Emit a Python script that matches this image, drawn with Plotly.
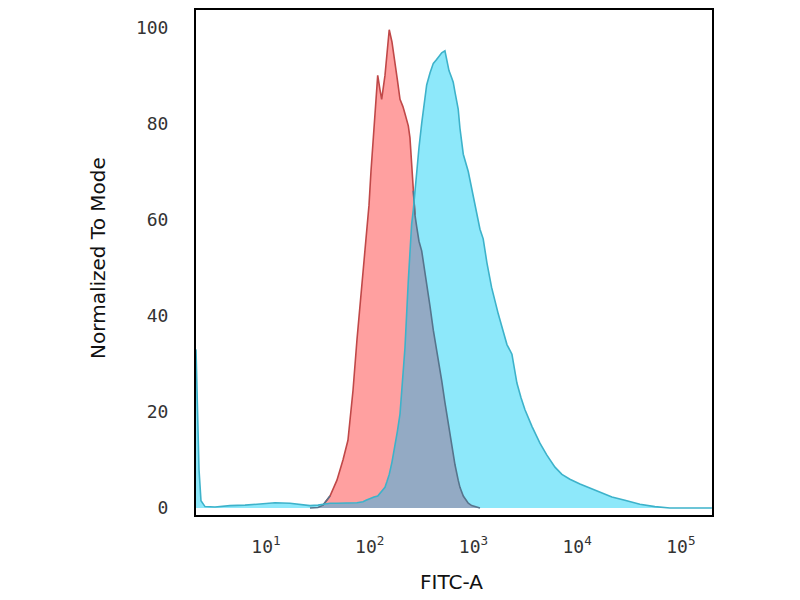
import numpy as np
import plotly.graph_objects as go

# log10 of FITC-A intensity, common grid for both histograms
log_fitc = [0.325, 0.340, 0.354, 0.373, 0.412, 0.508, 0.653, 0.798, 0.942, 1.087,
            1.231, 1.328, 1.424, 1.501, 1.549, 1.617, 1.684, 1.742, 1.790, 1.839,
            1.877, 1.906, 1.935, 1.964, 1.993, 2.012, 2.041, 2.077, 2.099, 2.115,
            2.147, 2.166, 2.188, 2.214, 2.243, 2.267, 2.292, 2.320, 2.340, 2.372,
            2.388, 2.404, 2.420, 2.436, 2.453, 2.475, 2.501, 2.523, 2.549, 2.581,
            2.613, 2.645, 2.677, 2.694, 2.725, 2.742, 2.764, 2.790, 2.805, 2.822,
            2.853, 2.870, 2.902, 2.950, 2.983, 3.024, 3.063, 3.094, 3.130, 3.175,
            3.207, 3.239, 3.284, 3.323, 3.371, 3.419, 3.458, 3.496, 3.564, 3.641,
            3.708, 3.786, 3.853, 3.930, 4.027, 4.123, 4.220, 4.335, 4.460, 4.605,
            4.749, 4.894, 5.087, 5.299]

# isotype control (red)
isotype = [0, 0, 0, 0, 0, 0, 0, 0, 0, 0,
           0, 0, 0, 0.1, 0.6, 2.5, 5.8, 10, 14.1, 24.5,
           35, 42, 50, 56, 63, 70, 80, 90, 87, 85,
           90, 95, 99.5, 97, 93, 89, 85, 83.5, 82, 79.5,
           77, 72, 66, 61, 58.5, 55.5, 53.5, 50.5, 47, 42,
           37, 33, 29, 26.5, 22, 19.6, 16.5, 12.7, 10.8, 9,
           5.8, 4.3, 2.5, 1, 0.5, 0.2, 0, 0, 0, 0,
           0, 0, 0, 0, 0, 0, 0, 0, 0, 0,
           0, 0, 0, 0, 0, 0, 0, 0, 0, 0,
           0, 0, 0, 0]

# stained sample (blue)
stained = [33, 22, 8, 1.5, 0.3, 0.2, 0.5, 0.6, 0.8, 1.1,
           1.0, 0.7, 0.5, 0.6, 0.8, 1.0, 1.0, 1.0, 1.0, 1.0,
           1.1, 1.2, 1.3, 1.6, 1.9, 2.1, 2.3, 2.5, 3, 3.5,
           4.3, 5.5, 7, 9.5, 12.7, 16, 19.6, 27, 33.4, 47.3,
           53, 59, 62, 66, 70, 75, 80, 84, 88, 90.5,
           92.5, 93.3, 94.3, 94.7, 95.1, 93, 91, 89.5, 88.6, 86.5,
           83, 79, 73.6, 70, 66.5, 62, 58, 56, 51, 45.9,
           43, 40.4, 37, 34, 32, 26, 23, 20.5, 17, 13.5,
           11, 8.5, 7, 6, 5, 4.2, 3.3, 2.3, 1.6, 0.8,
           0.3, 0, 0, 0]

x = 10 ** np.array(log_fitc)
red = np.array(isotype, dtype=float)
blue = np.array(stained, dtype=float)

# only draw the red curve where it leaves the baseline
nz = np.nonzero(red)[0]
i0, i1 = max(nz[0] - 1, 0), min(nz[-1] + 1, len(red) - 1)
xr = x[i0:i1 + 1]
yr = red[i0:i1 + 1]
yb = blue[i0:i1 + 1]
overlap = np.minimum(yr, yb)

# split red outline: outside the blue area vs inside it
inside = yr <= yb
n = len(yr)
out_y = [v if (not inside[k] or (k > 0 and not inside[k - 1]) or (k < n - 1 and not inside[k + 1])) else None
         for k, v in enumerate(yr)]
in_y = [v if (inside[k] or (k > 0 and inside[k - 1]) or (k < n - 1 and inside[k + 1])) else None
        for k, v in enumerate(yr)]

fig = go.Figure()
fig.add_trace(go.Scatter(x=xr, y=yr, mode="lines", fill="tozeroy",
                         fillcolor="#FFA0A0", line=dict(width=0), hoverinfo="skip"))
fig.add_trace(go.Scatter(x=x, y=blue, mode="lines", fill="tozeroy",
                         fillcolor="#8DE8FA", line=dict(width=0), hoverinfo="skip"))
fig.add_trace(go.Scatter(x=xr, y=overlap, mode="lines", fill="tozeroy",
                         fillcolor="#93AAC4", line=dict(width=0), hoverinfo="skip"))
fig.add_trace(go.Scatter(x=xr, y=out_y, mode="lines", connectgaps=False,
                         line=dict(color="#C04848", width=1.6)))
fig.add_trace(go.Scatter(x=xr, y=in_y, mode="lines", connectgaps=False,
                         line=dict(color="#56748C", width=1.6)))
fig.add_trace(go.Scatter(x=x, y=blue, mode="lines",
                         line=dict(color="#3DB2CA", width=1.6)))

# page body adds an 8px offset, margins compensate for it
fig.update_layout(
    width=800, height=600,
    margin=dict(l=188, r=96, t=0, b=93),
    paper_bgcolor="white", plot_bgcolor="white",
    showlegend=False,
    font=dict(family="DejaVu Sans", color="#222"),
)
fig.update_xaxes(
    type="log", range=[0.325, 5.30],
    tickvals=[1e1, 1e2, 1e3, 1e4, 1e5],
    ticktext=["10<sup>1</sup>", "10<sup>2</sup>", "10<sup>3</sup>", "10<sup>4</sup>", "10<sup>5</sup>"],
    tickfont=dict(family="DejaVu Sans Mono", size=18, color="#333"),
    ticks="", ticklabelstandoff=14,
    showgrid=False, zeroline=False,
    showline=True, linecolor="black", linewidth=2, mirror=True,
)
fig.update_yaxes(
    range=[-1.45, 103.6],
    tickvals=[0, 20, 40, 60, 80, 100],
    tickfont=dict(family="DejaVu Sans Mono", size=18, color="#333"),
    ticks="", ticklabelstandoff=22,
    showgrid=False, zeroline=False,
    showline=True, linecolor="black", linewidth=2, mirror=True,
)
fig.add_annotation(text="Normalized To Mode", xref="paper", yref="paper",
                   x=-0.19, y=0.509, textangle=-90, showarrow=False,
                   xanchor="center", yanchor="middle",
                   font=dict(family="DejaVu Sans", size=20, color="#111"))
fig.add_annotation(text="FITC-A", xref="paper", yref="paper",
                   x=0.496, y=-0.132, showarrow=False,
                   xanchor="center", yanchor="middle",
                   font=dict(family="DejaVu Sans", size=20, color="#111"))

fig.write_html("out.html")
